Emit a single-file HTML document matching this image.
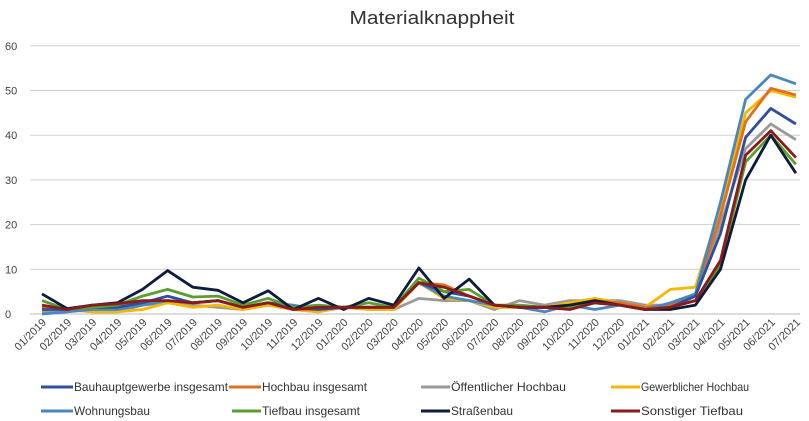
<!DOCTYPE html>
<html><head><meta charset="utf-8"><style>
html,body{margin:0;padding:0;background:#fff;}
svg{display:block;font-family:"Liberation Sans",sans-serif;}
</style></head><body>
<svg id="s" width="809" height="421" xmlns="http://www.w3.org/2000/svg">
<text x="432" y="24" text-anchor="middle" font-size="18" fill="#333" textLength="165" lengthAdjust="spacingAndGlyphs">Materialknappheit</text>
<g id="grid"></g><g id="lines"></g><g id="xl"></g>
<g font-size="12" fill="#333">
<line x1="41" y1="387" x2="73" y2="387" stroke="#2e4f9e" stroke-width="3"/><text x="74" y="391" textLength="154" lengthAdjust="spacingAndGlyphs">Bauhauptgewerbe insgesamt</text>
<line x1="229" y1="387" x2="261" y2="387" stroke="#e07020" stroke-width="3"/><text x="262" y="391" textLength="105" lengthAdjust="spacingAndGlyphs">Hochbau insgesamt</text>
<line x1="421" y1="387" x2="450" y2="387" stroke="#9a9a9a" stroke-width="3"/><text x="451" y="391" textLength="115" lengthAdjust="spacingAndGlyphs">Öffentlicher Hochbau</text>
<line x1="611" y1="387" x2="640" y2="387" stroke="#f5b800" stroke-width="3"/><text x="641" y="391" textLength="108" lengthAdjust="spacingAndGlyphs">Gewerblicher Hochbau</text>
<line x1="41" y1="411" x2="73" y2="411" stroke="#4a86c0" stroke-width="3"/><text x="74" y="415" textLength="76" lengthAdjust="spacingAndGlyphs">Wohnungsbau</text>
<line x1="232" y1="411" x2="261" y2="411" stroke="#5a9e2f" stroke-width="3"/><text x="262" y="415" textLength="98" lengthAdjust="spacingAndGlyphs">Tiefbau insgesamt</text>
<line x1="421" y1="411" x2="450" y2="411" stroke="#0d1b3e" stroke-width="3"/><text x="451" y="415" textLength="62" lengthAdjust="spacingAndGlyphs">Straßenbau</text>
<line x1="611" y1="411" x2="640" y2="411" stroke="#8b1a1a" stroke-width="3"/><text x="641" y="415" textLength="102" lengthAdjust="spacingAndGlyphs">Sonstiger Tiefbau</text>
</g>
</svg>
<script>
var NS="http://www.w3.org/2000/svg";
function el(t,a,p,txt){var e=document.createElementNS(NS,t);for(var k in a)e.setAttribute(k,a[k]);if(txt)e.textContent=txt;document.getElementById(p).appendChild(e);return e;}
function Y(v){return 314-4.47*v;}
function X(i){return 42+25.13*i;}
for(var v=0;v<=60;v+=10){el('line',{x1:30,x2:800,y1:Y(v),y2:Y(v),stroke:v==0?'#bbb':'#d0d0d0','stroke-width':1},'grid');
el('text',{x:5,y:Y(v)+4,'font-size':11,fill:'#444'},'grid',String(v));}
var labs=[];for(var y=2019;y<=2021;y++)for(var m=1;m<=12;m++){if(y==2021&&m>7)break;labs.push((m<10?'0':'')+m+'/'+y);}
labs.forEach(function(l,i){var x=X(i)+5,y=323;el('text',{x:x,y:y,'font-size':11,fill:'#444','text-anchor':'end',transform:'rotate(-45 '+x+' '+y+')'},'xl',l);});
var S=[
['#9a9a9a',[0.5,1,0.5,0.5,2,2.5,2,1.5,1,2,1,0.5,1.5,1,1,3.5,3,3,1,3,2,3,3,3,2,2,4.5,20,37,42.5,39]],
['#f5b800',[1,1,0.5,0.5,1,2.5,1.5,2,1,2,1,0.5,1.5,1,1,7,3.5,3,1.5,1.5,1.5,2.5,3.5,2.5,1.5,5.5,6,24,45,50,48.5]],
['#e07020',[1.5,1,1.5,2,2.5,3,2.5,3,1.5,2.5,1,1,1.5,1.5,1.5,7,6.5,4,2,1.5,1.5,1.5,3,2.5,1.5,2,4,22,43,50.5,49]],
['#4a86c0',[0,0.5,1,1,2,3,2.5,3,1.5,2.5,2,1,1.5,1.5,1.5,7,4,3,2,1.5,0.5,2,1,2,1,2.5,4.5,25,48,53.5,51.5]],
['#2e4f9e',[1,1,1.5,1.5,2.5,4,2.5,3,1.5,2.5,1.5,1,1.5,1.5,1.5,7,5,4,2,1.5,1.5,1.5,2.5,2,1,1.5,4,18,39.5,46,42.5]],
['#5a9e2f',[3,1,1.5,2,4,5.5,3.8,4,2,3.5,1.5,2,1.5,2.5,1.5,8,5,5.5,2,2,1.5,1.5,2.5,2,1,1.5,3,11,34,40,33.5]],
['#0d1b3e',[4.5,1.2,2,2.5,5.5,9.7,6,5.3,2.5,5.2,1,3.5,1,3.5,2,10.3,3.5,7.8,2,1.5,1.5,2,3,2,1,1,2,10,30,40,31.5]],
['#8b1a1a',[2,1,2,2.3,3,3,2.5,3,1.5,2.5,1,1.5,1.5,1.5,1.5,7,6,4,2,1.5,1.5,1,2.5,2,1,1.5,3,12,35.5,41,35]]];
S.forEach(function(s){el('polyline',{points:s[1].map(function(v,i){return X(i).toFixed(1)+','+Y(v).toFixed(1);}).join(' '),fill:'none',stroke:s[0],'stroke-width':2.8,'stroke-linejoin':'round'},'lines');});
</script>
</body></html>
